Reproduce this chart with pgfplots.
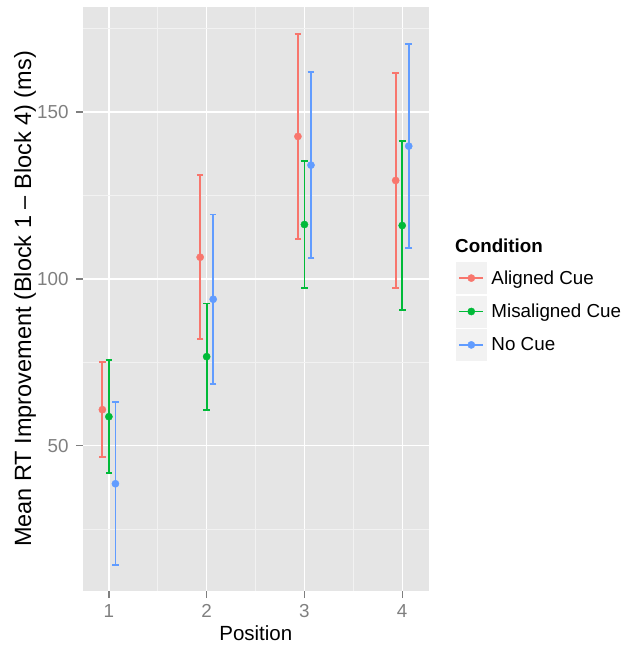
\documentclass[border=0pt]{standalone}
\usepackage{pgfplots}
\usepackage{pgfplotstable}
\pgfplotsset{compat=1.18}
\usepackage{fontspec}
\setmainfont{Liberation Sans}
\definecolor{cA}{HTML}{F8766D}
\definecolor{cM}{HTML}{00BA38}
\definecolor{cN}{HTML}{619CFF}
\definecolor{panelbg}{HTML}{E5E5E5}
\definecolor{minorg}{HTML}{F2F2F2}
\definecolor{tickc}{HTML}{7F7F7F}
\definecolor{keybg}{HTML}{F2F2F2}

\pgfplotstableread{
x y e
0.9333 60.8 14.3
1.9333 106.5 24.6
2.9333 142.7 30.8
3.9333 129.5 32.3
}\tabA
\pgfplotstableread{
x y e
1 58.7 17.0
2 76.7 15.9
3 116.3 19.1
4 116.0 25.4
}\tabM
\pgfplotstableread{
x y e
1.0667 38.6 24.4
2.0667 93.9 25.4
3.0667 134.1 27.9
4.0667 139.8 30.5
}\tabN

\pgfplotsset{
  keyimg/.style={legend image code/.code={
    \fill[keybg] (0bp,-15.5bp) rectangle (30bp,15.5bp);
    \draw[#1, line width=1.8bp] (3bp,0bp) -- (27bp,0bp);
    \fill[#1] (15bp,0bp) circle (3.6bp);
  }},
  eb/.style={only marks, color=#1, mark=*, mark size=3.6bp,
    mark options={draw=none, fill=#1}, keyimg=#1,
    error bars/.cd, y dir=both, y explicit,
    error bar style={line width=1.8bp, color=#1},
    error mark options={line width=1.8bp, mark size=3.3bp, color=#1, rotate=90}},
}

\begin{document}
\begin{tikzpicture}
\path[use as bounding box] (-83bp,-54bp) rectangle (548bp,591bp);
\begin{axis}[
  at={(0,0)}, anchor=south west,
  scale only axis, width=345.6bp, height=584bp,
  xmin=0.735, xmax=4.27, ymin=6.45, ymax=181.5,
  axis background/.style={fill=panelbg},
  axis line style={draw=none},
  xtick={1,2,3,4}, ytick={50,100,150},
  minor xtick={1.5,2.5,3.5}, minor ytick={25,75,125,175},
  grid=both,
  major grid style={white, line width=1.4bp},
  minor grid style={minorg, line width=0.7bp},
  tick align=outside, tick pos=left,
  major tick length=7bp, minor tick length=0pt,
  tick style={tickc, line width=1.4bp},
  /pgf/number format/assume math mode=true,
  ticklabel style={font=\fontsize{18.8bp}{20bp}\selectfont, text=tickc},
  xticklabel style={yshift=-3bp},
  yticklabel style={xshift=-4bp},
  xlabel={Position},
  ylabel={Mean RT Improvement (Block 1 – Block 4) (ms)},
  x label style={font=\fontsize{20.5bp}{22bp}\selectfont, at={(axis description cs:0.5,0)}, yshift=-42bp, anchor=center},
  y label style={font=\fontsize{23.5bp}{25bp}\selectfont, at={(axis description cs:-0.168,0.5)}, anchor=center},
  legend style={at={(1.079,0.563)}, anchor=north west, draw=none, fill=none,
    inner sep=0pt, row sep=2bp, font=\fontsize{18.8bp}{20bp}\selectfont,
    /tikz/every odd column/.append style={column sep=3bp}},
  legend cell align=left,
]
\addplot[eb=cA] table[x=x, y=y, y error=e] {\tabA};
\addlegendentry{Aligned Cue}
\addplot[eb=cM] table[x=x, y=y, y error=e] {\tabM};
\addlegendentry{Misaligned Cue}
\addplot[eb=cN] table[x=x, y=y, y error=e] {\tabN};
\addlegendentry{No Cue}
\end{axis}
\node[anchor=base west, inner sep=0pt, font=\bfseries\fontsize{18.8bp}{20bp}\selectfont] at (372bp,338bp) {Condition};
\end{tikzpicture}
\end{document}
